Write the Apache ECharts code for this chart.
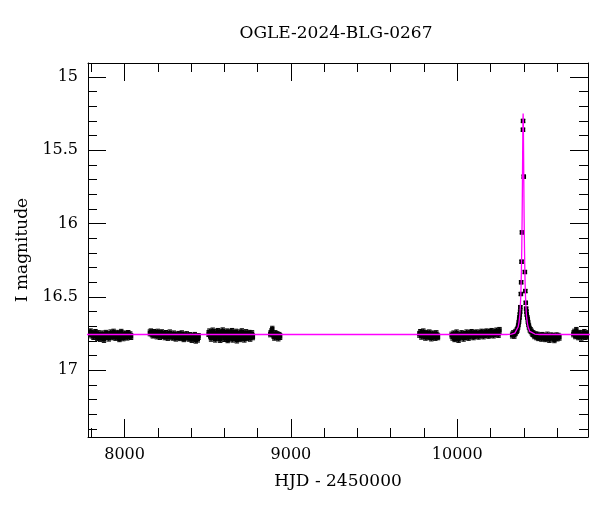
<!DOCTYPE html>
<html>
<head>
<meta charset="utf-8">
<script src="https://cdn.jsdelivr.net/npm/echarts@6/dist/echarts.min.js"></script>
<style>html,body{margin:0;padding:0;background:#fff}#c{width:600px;height:512px}</style>
</head>
<body>
<div id="c"></div>
<script>
// ---- data (HJD - 2450000, I magnitude) ----
var season1 = [[7784,16.752],[7790,16.745],[7796,16.738],[7802,16.760],[7808,16.748],[7813,16.770],[7819,16.756],[7825,16.742],[7831,16.765],[7836,16.778],[7842,16.750],[7848,16.761],[7853,16.783],[7859,16.768],[7865,16.752],[7870,16.775],[7876,16.790],[7882,16.763],[7888,16.748],[7893,16.770],[7899,16.757],[7905,16.781],[7911,16.766],[7916,16.745],[7922,16.760],[7928,16.772],[7934,16.740],[7940,16.758],[7946,16.776],[7951,16.762],[7957,16.748],[7963,16.770],[7969,16.785],[7974,16.755],[7980,16.741],[7986,16.765],[7992,16.779],[7998,16.752],[8004,16.768],[8010,16.757],[8016,16.774],[8022,16.749],[8028,16.766],[8034,16.758],[8039,16.770]];
var season2 = [[8152,16.745],[8158,16.738],[8164,16.752],[8170,16.760],[8176,16.742],[8182,16.755],[8188,16.748],[8194,16.766],[8200,16.740],[8206,16.757],[8212,16.770],[8218,16.750],[8224,16.744],[8230,16.763],[8236,16.756],[8242,16.772],[8248,16.749],[8254,16.761],[8260,16.776],[8266,16.758],[8272,16.745],[8278,16.768],[8284,16.760],[8290,16.775],[8296,16.752],[8302,16.766],[8308,16.781],[8314,16.759],[8320,16.770],[8326,16.755],[8332,16.778],[8338,16.764],[8344,16.751],[8350,16.772],[8356,16.785],[8362,16.760],[8368,16.774],[8374,16.757],[8380,16.769],[8386,16.782],[8392,16.763],[8398,16.775],[8404,16.790],[8410,16.768],[8416,16.780],[8422,16.762],[8428,16.795],[8434,16.775],[8440,16.788],[8445,16.770]];
var season3 = [[8505,16.750],[8510,16.738],[8515,16.765],[8520,16.782],[8525,16.745],[8530,16.732],[8535,16.770],[8540,16.757],[8545,16.788],[8550,16.743],[8555,16.762],[8560,16.735],[8565,16.778],[8570,16.752],[8575,16.790],[8580,16.740],[8585,16.768],[8590,16.731],[8595,16.756],[8600,16.784],[8605,16.747],[8610,16.772],[8615,16.738],[8620,16.792],[8625,16.760],[8630,16.744],[8635,16.780],[8640,16.753],[8645,16.735],[8650,16.788],[8655,16.766],[8660,16.749],[8665,16.776],[8670,16.740],[8675,16.794],[8680,16.758],[8685,16.770],[8690,16.745],[8695,16.785],[8700,16.762],[8705,16.737],[8710,16.774],[8715,16.752],[8720,16.788],[8725,16.760],[8730,16.743],[8735,16.778],[8740,16.756],[8745,16.770],[8750,16.748],[8755,16.782],[8760,16.762],[8766,16.750],[8771,16.772]];
var season4 = [[8876,16.752],[8882,16.738],[8888,16.720],[8894,16.760],[8900,16.775],[8906,16.750],[8912,16.768],[8918,16.757],[8924,16.780],[8930,16.762],[8935,16.770]];
var season5 = [[9772,16.755],[9778,16.742],[9784,16.768],[9790,16.750],[9796,16.738],[9802,16.762],[9808,16.775],[9814,16.748],[9820,16.760],[9826,16.772],[9832,16.745],[9838,16.765],[9844,16.780],[9850,16.752],[9856,16.768],[9862,16.758],[9868,16.776],[9874,16.750],[9880,16.766],[9884,16.772]];
var season6 = [[9966,16.760],[9972,16.775],[9978,16.752],[9984,16.785],[9990,16.768],[9996,16.745],[10002,16.779],[10008,16.790],[10014,16.760],[10020,16.772],[10026,16.750],[10032,16.765],[10038,16.782],[10044,16.756],[10050,16.770],[10056,16.745],[10062,16.762],[10068,16.776],[10074,16.750],[10080,16.766],[10086,16.742],[10092,16.758],[10098,16.772],[10104,16.748],[10110,16.762],[10116,16.745],[10122,16.758],[10128,16.768],[10134,16.747],[10140,16.760],[10146,16.740],[10152,16.755],[10158,16.766],[10164,16.744],[10170,16.757],[10176,16.738],[10182,16.750],[10188,16.762],[10194,16.742],[10200,16.755],[10206,16.735],[10212,16.748],[10218,16.760],[10224,16.740],[10230,16.752],[10236,16.732],[10242,16.745],[10248,16.756],[10254,16.728]];
var eventSeason = [[10330,16.760],[10337,16.750],[10343,16.762],[10348,16.745],[10352,16.740],[10358,16.730],[10362,16.720],[10366,16.700],[10369,16.680],[10372,16.660],[10374,16.640],[10376,16.620],[10378,16.600],[10379,16.570],[10382.5,16.480],[10384,16.400],[10386.5,16.260],[10389,16.060],[10395,15.360],[10395.5,15.300],[10400,15.680],[10406.5,16.330],[10409,16.460],[10412,16.540],[10414,16.580],[10416,16.600],[10418,16.620],[10421,16.640],[10424,16.660],[10427,16.680],[10431,16.700],[10436,16.720],[10442,16.730],[10448,16.740],[10453,16.750],[10458,16.752],[10464,16.765],[10470,16.758],[10476,16.772],[10482,16.760],[10488,16.778],[10494,16.765],[10500,16.770],[10506,16.782],[10512,16.762],[10518,16.775],[10524,16.768],[10530,16.785],[10536,16.770],[10542,16.760],[10548,16.778],[10554,16.790],[10560,16.772],[10566,16.765],[10572,16.780],[10578,16.770],[10584,16.792],[10590,16.775],[10596,16.765],[10602,16.780],[10608,16.768],[10614,16.775]];
var season8 = [[10698,16.752],[10704,16.740],[10710,16.765],[10716,16.728],[10722,16.758],[10728,16.772],[10734,16.748],[10740,16.762],[10746,16.775],[10752,16.750],[10758,16.766],[10764,16.742],[10770,16.770],[10776,16.758],[10782,16.765],[10788,16.750]];
var baselineError = 0.02;
var brightError = 0.01;

// model light curve
var modelCurve = [[7700,16.756],[10296,16.756],[10326,16.753],[10346,16.747],[10356,16.735],[10366,16.705],[10371,16.675],[10376,16.625],[10379,16.57],[10382,16.49],[10384,16.41],[10386,16.30],[10388,16.155],[10390,15.96],[10391,15.84],[10392,15.70],[10393,15.55],[10394,15.41],[10395,15.295],[10396,15.25],[10397,15.295],[10398,15.41],[10399,15.55],[10400,15.70],[10401,15.84],[10402,15.96],[10404,16.155],[10406,16.30],[10408,16.41],[10410,16.49],[10413,16.57],[10416,16.625],[10421,16.675],[10426,16.705],[10436,16.735],[10446,16.747],[10466,16.753],[10496,16.756],[10900,16.756]];

// axes
var xMin = 7780, xMax = 10786;
var yMin = 14.905, yMax = 17.455;
var xMajorTicks = [8000, 9000, 10000];
var xMinorTicks = [7800,8000,8200,8400,8600,8800,9000,9200,9400,9600,9800,10000,10200,10400,10600];
var yMajorTicks = [15, 15.5, 16, 16.5, 17];
var yMinorTicks = [15,15.1,15.2,15.3,15.4,15.5,15.6,15.7,15.8,15.9,16,16.1,16.2,16.3,16.4,16.5,16.6,16.7,16.8,16.9,17,17.1,17.2,17.3,17.4];

var titleText = 'OGLE-2024-BLG-0267';
var xName = 'HJD - 2450000';
var yName = 'I magnitude';

var FONT = 'DejaVu Serif';
var allPoints = [].concat(season1, season2, season3, season4, season5, season6, eventSeason, season8);

function plain(v) { return String(v); }

function xAx(pos, major, showLine) {
  return {
    type: 'value', position: pos, min: xMin, max: xMax, gridIndex: 0,
    axisLine: {show: showLine, onZero: false, lineStyle: {color: '#000', width: 1}},
    axisTick: {show: true, inside: true, length: major ? 18 : 9, customValues: major ? xMajorTicks : xMinorTicks, lineStyle: {color: '#000', width: 1}},
    axisLabel: (pos === 'bottom' && major) ? {show: true, customValues: xMajorTicks, formatter: plain, margin: 10, color: '#000', fontFamily: FONT, fontSize: 16} : {show: false},
    splitLine: {show: false},
    name: (pos === 'bottom' && major) ? xName : '',
    nameLocation: 'middle', nameGap: 36,
    nameTextStyle: {color: '#000', fontFamily: FONT, fontSize: 17}
  };
}
function yAx(pos, major, showLine) {
  return {
    type: 'value', position: pos, min: yMin, max: yMax, inverse: true, gridIndex: 0,
    axisLine: {show: showLine, onZero: false, lineStyle: {color: '#000', width: 1}},
    axisTick: {show: true, inside: true, length: major ? 18 : 9, customValues: major ? yMajorTicks : yMinorTicks, lineStyle: {color: '#000', width: 1}},
    axisLabel: (pos === 'left' && major) ? {show: true, customValues: yMajorTicks, formatter: plain, margin: 10, color: '#000', fontFamily: FONT, fontSize: 16} : {show: false},
    splitLine: {show: false},
    name: (pos === 'left' && major) ? yName : '',
    nameLocation: 'middle', nameGap: 56, nameRotate: 90,
    nameTextStyle: {color: '#000', fontFamily: FONT, fontSize: 17}
  };
}

var chart = echarts.init(document.getElementById('c'), null, {renderer: 'canvas'});
chart.setOption({
  animation: false,
  backgroundColor: '#fff',
  grid: {left: 88, right: 12, top: 63, bottom: 75, containLabel: false},
  graphic: [{
    type: 'text', x: 336, y: 34,
    style: {text: titleText, fill: '#000', font: '17px "DejaVu Serif"', textAlign: 'center', textVerticalAlign: 'middle', verticalAlign: 'middle'}
  }],
  xAxis: [xAx('bottom', true, true), xAx('bottom', false, false), xAx('top', true, true), xAx('top', false, false)],
  yAxis: [yAx('left', true, true), yAx('left', false, false), yAx('right', true, true), yAx('right', false, false)],
  series: [
    {
      type: 'custom', xAxisIndex: 0, yAxisIndex: 0, clip: true, z: 2,
      data: allPoints,
      encode: {x: 0, y: 1},
      renderItem: function (params, api) {
        var x = api.value(0), m = api.value(1);
        var err = m < 16.65 ? brightError : baselineError;
        var c = api.coord([x, m]);
        var hi = api.coord([x, m - err]);
        var lo = api.coord([x, m + err]);
        var s = 4.5, w = 2.2;
        return {
          type: 'group',
          children: [
            {type: 'rect', shape: {x: c[0] - s / 2, y: c[1] - s / 2, width: s, height: s}, style: {fill: '#000'}},
            {type: 'line', shape: {x1: c[0], y1: hi[1], x2: c[0], y2: lo[1]}, style: {stroke: '#000', lineWidth: 1}},
            {type: 'line', shape: {x1: c[0] - w, y1: hi[1], x2: c[0] + w, y2: hi[1]}, style: {stroke: '#000', lineWidth: 1}},
            {type: 'line', shape: {x1: c[0] - w, y1: lo[1], x2: c[0] + w, y2: lo[1]}, style: {stroke: '#000', lineWidth: 1}}
          ]
        };
      }
    },
    {
      type: 'line', xAxisIndex: 0, yAxisIndex: 0, data: modelCurve, showSymbol: false, symbol: 'none',
      clip: true, z: 3, smooth: false,
      lineStyle: {color: '#ff00ff', width: 1.3}
    }
  ]
});
</script>
</body>
</html>
